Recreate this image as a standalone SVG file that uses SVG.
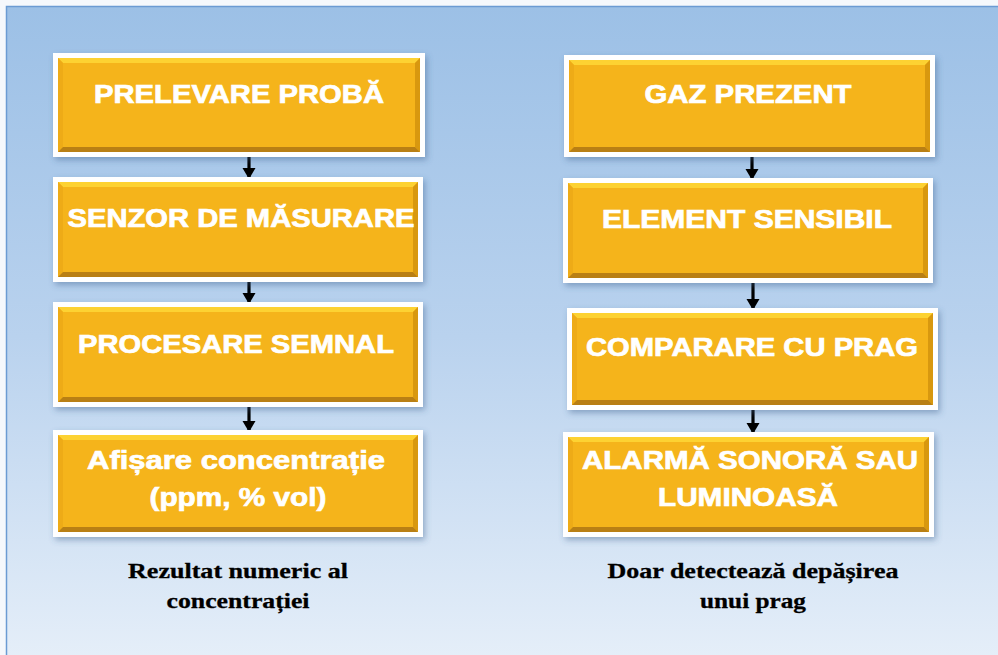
<svg xmlns="http://www.w3.org/2000/svg" width="998" height="655" viewBox="0 0 998 655">
<defs>
<linearGradient id="bg" x1="0" y1="0" x2="0" y2="1">
<stop offset="0" stop-color="#9cc0e6"/>
<stop offset="0.5" stop-color="#b9d2ee"/>
<stop offset="1" stop-color="#e6eff9"/>
</linearGradient>
<filter id="sh" x="-10%" y="-20%" width="120%" height="140%">
<feDropShadow dx="2" dy="3" stdDeviation="3" flood-color="#3d5f8c" flood-opacity="0.45"/>
</filter>
<marker id="ah" markerUnits="userSpaceOnUse" markerWidth="14" markerHeight="14" refX="11" refY="7" orient="auto">
<path d="M0,0.5 L11,7 L0,13.5 Z" fill="#000"/>
</marker>
</defs>
<style>
.frame{fill:#fff;filter:url(#sh)}
.core{fill:#f5b41b}
.bt{fill:#fdd232}
.bl{fill:#eeab17}
.bb{fill:#b97f14}
.br{fill:#d8980f}
.t{font-family:"Liberation Sans",Arial,sans-serif;font-weight:bold;font-size:25px;fill:#fff;stroke:#fff;stroke-width:0.7px;text-anchor:middle}
.cap{font-family:"Liberation Serif","Times New Roman",serif;font-weight:bold;font-size:22px;fill:#000;stroke:#000;stroke-width:0.3px;text-anchor:middle}
.conn{stroke:#000;stroke-width:3.2;fill:none;marker-end:url(#ah)}
</style>
<rect x="0" y="0" width="998" height="655" fill="#f5f8fc"/>
<rect x="6.5" y="6.5" width="1000" height="660" fill="url(#bg)" stroke="#6b9bd3" stroke-width="1.5"/>

<g id="connectors">
<path class="conn" d="M249,157 L249,179"/>
<path class="conn" d="M249,282 L249,304"/>
<path class="conn" d="M249,407 L249,432"/>
<path class="conn" d="M752,157 L752,180"/>
<path class="conn" d="M753,283 L753,310"/>
<path class="conn" d="M753,410 L753,434"/>
</g>

<g id="n1">
<rect class="frame" x="53" y="53" width="372" height="104"/>
<rect class="core" x="58" y="58" width="362" height="94"/>
<polygon class="bt" points="58,58 420,58 415,63 63,63"/>
<polygon class="bl" points="58,58 63,63 63,147 58,152"/>
<polygon class="br" points="420,58 415,63 415,147 420,152"/>
<polygon class="bb" points="58,152 420,152 415,147 63,147"/>
<text class="t" x="239" y="103" textLength="290" lengthAdjust="spacingAndGlyphs">PRELEVARE PROBĂ</text>
</g>
<g id="n2">
<rect class="frame" x="53" y="177" width="370" height="105"/>
<rect class="core" x="58" y="182" width="360" height="95"/>
<polygon class="bt" points="58,182 418,182 413,187 63,187"/>
<polygon class="bl" points="58,182 63,187 63,272 58,277"/>
<polygon class="br" points="418,182 413,187 413,272 418,277"/>
<polygon class="bb" points="58,277 418,277 413,272 63,272"/>
<text class="t" x="241" y="227" textLength="347" lengthAdjust="spacingAndGlyphs">SENZOR DE MĂSURARE</text>
</g>
<g id="n3">
<rect class="frame" x="53" y="302" width="370" height="105"/>
<rect class="core" x="58" y="307" width="360" height="95"/>
<polygon class="bt" points="58,307 418,307 413,312 63,312"/>
<polygon class="bl" points="58,307 63,312 63,397 58,402"/>
<polygon class="br" points="418,307 413,312 413,397 418,402"/>
<polygon class="bb" points="58,402 418,402 413,397 63,397"/>
<text class="t" x="236" y="353" textLength="316" lengthAdjust="spacingAndGlyphs">PROCESARE SEMNAL</text>
</g>
<g id="n4">
<rect class="frame" x="53" y="430" width="370" height="107"/>
<rect class="core" x="58" y="435" width="360" height="97"/>
<polygon class="bt" points="58,435 418,435 413,440 63,440"/>
<polygon class="bl" points="58,435 63,440 63,527 58,532"/>
<polygon class="br" points="418,435 413,440 413,527 418,532"/>
<polygon class="bb" points="58,532 418,532 413,527 63,527"/>
<text class="t" x="236" y="469" textLength="298" lengthAdjust="spacingAndGlyphs">Afișare concentrație</text>
<text class="t" x="238" y="506" textLength="177" lengthAdjust="spacingAndGlyphs">(ppm, % vol)</text>
</g>

<g id="n5">
<rect class="frame" x="564" y="55" width="371" height="102"/>
<rect class="core" x="569" y="60" width="361" height="92"/>
<polygon class="bt" points="569,60 930,60 925,65 574,65"/>
<polygon class="bl" points="569,60 574,65 574,147 569,152"/>
<polygon class="br" points="930,60 925,65 925,147 930,152"/>
<polygon class="bb" points="569,152 930,152 925,147 574,147"/>
<text class="t" x="748" y="103" textLength="207" lengthAdjust="spacingAndGlyphs">GAZ PREZENT</text>
</g>
<g id="n6">
<rect class="frame" x="563" y="178" width="370" height="105"/>
<rect class="core" x="568" y="183" width="360" height="95"/>
<polygon class="bt" points="568,183 928,183 923,188 573,188"/>
<polygon class="bl" points="568,183 573,188 573,273 568,278"/>
<polygon class="br" points="928,183 923,188 923,273 928,278"/>
<polygon class="bb" points="568,278 928,278 923,273 573,273"/>
<text class="t" x="747" y="228" textLength="290" lengthAdjust="spacingAndGlyphs">ELEMENT SENSIBIL</text>
</g>
<g id="n7">
<rect class="frame" x="567" y="308" width="371" height="102"/>
<rect class="core" x="572" y="313" width="361" height="92"/>
<polygon class="bt" points="572,313 933,313 928,318 577,318"/>
<polygon class="bl" points="572,313 577,318 577,400 572,405"/>
<polygon class="br" points="933,313 928,318 928,400 933,405"/>
<polygon class="bb" points="572,405 933,405 928,400 577,400"/>
<text class="t" x="752" y="356" textLength="332" lengthAdjust="spacingAndGlyphs">COMPARARE CU PRAG</text>
</g>
<g id="n8">
<rect class="frame" x="563" y="432" width="371" height="105"/>
<rect class="core" x="568" y="437" width="361" height="95"/>
<polygon class="bt" points="568,437 929,437 924,442 573,442"/>
<polygon class="bl" points="568,437 573,442 573,527 568,532"/>
<polygon class="br" points="929,437 924,442 924,527 929,532"/>
<polygon class="bb" points="568,532 929,532 924,527 573,527"/>
<text class="t" x="750" y="469" textLength="336" lengthAdjust="spacingAndGlyphs">ALARMĂ SONORĂ SAU</text>
<text class="t" x="748" y="506" textLength="180" lengthAdjust="spacingAndGlyphs">LUMINOASĂ</text>
</g>

<g id="caption-left">
<text class="cap" x="238" y="578" textLength="220" lengthAdjust="spacingAndGlyphs">Rezultat numeric al</text>
<text class="cap" x="238" y="608" textLength="143" lengthAdjust="spacingAndGlyphs">concentrației</text>
</g>
<g id="caption-right">
<text class="cap" x="753" y="578" textLength="291" lengthAdjust="spacingAndGlyphs">Doar detectează depășirea</text>
<text class="cap" x="753" y="608" textLength="106" lengthAdjust="spacingAndGlyphs">unui prag</text>
</g>
</svg>
